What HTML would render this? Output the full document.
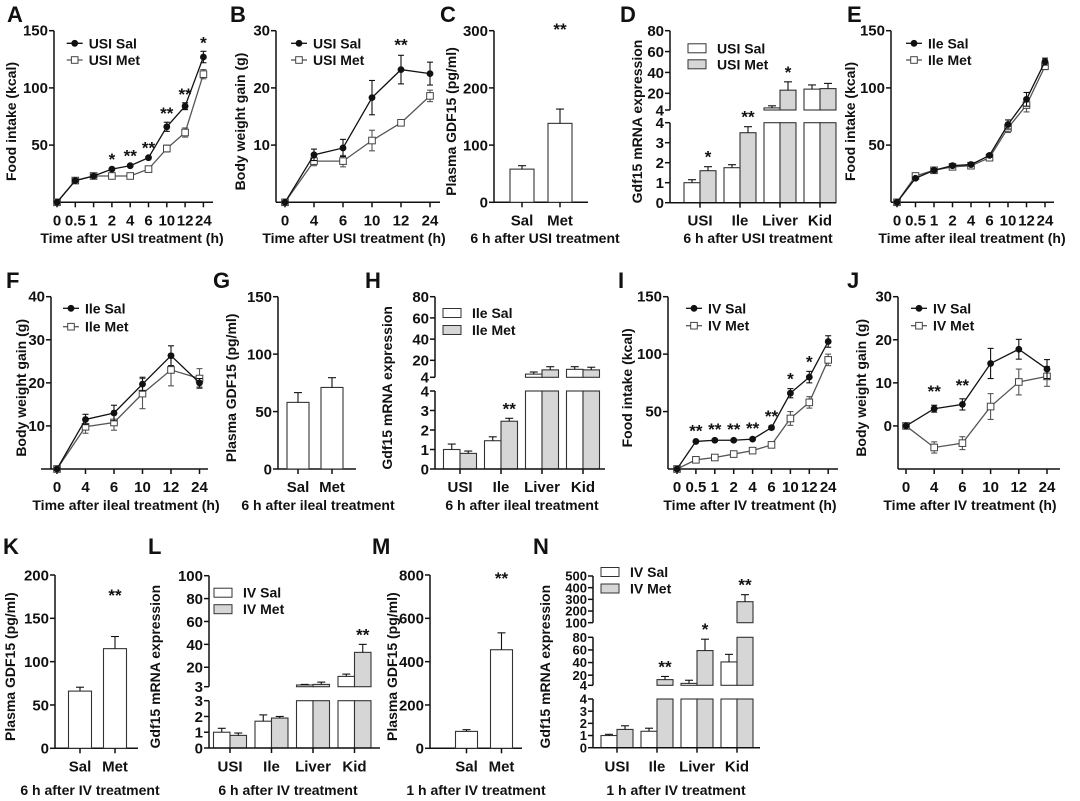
<!DOCTYPE html>
<html><head><meta charset="utf-8"><style>
html,body{margin:0;padding:0;background:#fff;}
svg{display:block;font-family:"Liberation Sans",Arial,sans-serif;font-weight:bold;}
</style></head><body>
<svg id="fig" width="1080" height="801" viewBox="0 0 1080 801" xmlns="http://www.w3.org/2000/svg"></svg>
<script>
// ---------- DATA ----------
const t9 = ['0','0.5','1','2','4','6','10','12','24'];
const t6 = ['0','4','6','10','12','24'];
const aSal=[0,19,23,29,32,39,66,84,127], aSalE=[0,1,1,1,1,1,4,3,5];
const aMet=[0,19,23,23,23,29,47,61,112], aMetE=[0,1,1,1,1,1,3,4,4];
const aStarIdx=[3,4,5,6,7,8], aStarTxt=['*','**','**','**','**','*'];
const bSal=[0,8.3,9.5,18.3,23.2,22.5], bSalE=[0,1,1.5,3,2.5,2];
const bMet=[0,7.2,7.2,10.8,13.9,18.6], bMetE=[0,0.8,1,1.8,0.4,1];
const bStarIdx=[4], bStarTxt=['**'];
const eSal=[0,21,28,32,33,41,68,90,123], eSalE=[0,1,1.5,1,1,1.5,4,6,3];
const eMet=[0,23,28,31,32,39,65,85,119], eMetE=[0,1,1.5,1,1,1.5,4,6,3];
const fSal=[0,11.5,13,19.7,26.3,20], fSalE=[0,1.2,1.8,1.6,2.3,1];
const fMet=[0,9.8,10.8,17.5,23,21], fMetE=[0,1.5,1.8,3.5,3.7,2.3];
const iSal=[0,24,25,25,26,36,66,80,111], iSalE=[0,1,1,1,1,1.5,4,5,5];
const iMet=[0,8,10,13,16,21,44,58,95], iMetE=[0,1,1,1,1,1.5,6,5,5];
const iStarIdx=[1,2,3,4,5,6,7], iStarTxt=['**','**','**','**','**','*','*'];
const jSal=[0,4,5,14.5,17.8,13.2], jSalE=[0,0.8,1.3,3.5,2.3,2.2];
const jMet=[0,-5,-4,4.5,10.2,11.5], jMetE=[0,1.3,1.5,3,3,2.3];
const jStarIdx=[1,2], jStarTxt=['**','**'];

const grpSM=['Sal','Met'];
const grpTissue=['USI','Ile','Liver','Kid'];
const cVal=[58,138], cErr=[64,163], cStar=['','**'];
const gVal=[58,71], gErr=[66.5,79.5], gStar=['',''];
const kVal=[66,115], kErr=[70.5,129], kStar=['','**'];
const mVal=[78,455], mErr=[86,533], mStar=['','**'];
const dSal=[1.0,1.75,6,24], dSalE=[1.15,1.9,8,28], dMet=[1.6,3.5,23,24.5], dMetE=[1.8,3.8,31,29.5], dStar=['*','**','*',''];
const hSal=[1.0,1.45,7,11.5], hSalE=[1.28,1.65,9,14], hMet=[0.8,2.45,11,11], hMetE=[0.92,2.6,14,13.5], hStar=['','**','',''];
const lSal=[1.0,1.7,4.5,12], lSalE=[1.25,2.1,5,14], lMet=[0.8,1.9,5,33], lMetE=[0.95,2.0,7,40], lStar=['','','','**'];
const nSal=[1.0,1.35,7,41], nSalE=[1.1,1.6,12,53], nMet=[1.5,13,59,280], nMetE=[1.8,18,77,340], nStar=['','**','*','**'];
const dTicksLo=[0,1,2,3,4], dTicksHi=[4,20,40,60,80];
const lTicksLo=[0,1,2,3], lTicksHi=[3,20,40,60,80,100];
const nTicksLo=[0,1,2,3,4], nTicksMid=[4,20,40,60,80], nTicksTop=[100,200,300,400,500];

// ---------- HELPERS ----------
const NS='http://www.w3.org/2000/svg';
const svg=document.getElementById('fig');
const TF=15;
function mk(tag,a,p){const e=document.createElementNS(NS,tag);for(const k in a)e.setAttribute(k,a[k]);(p||svg).appendChild(e);return e;}
function txt(p,x,y,s,size,anchor,rot){
  const a={x:x,y:y,'font-size':size,'text-anchor':anchor||'middle',fill:'#111'};
  if(rot)a.transform='rotate(-90 '+x+' '+y+')';
  const e=mk('text',a,p);e.textContent=s;return e;}
function ln(p,x1,y1,x2,y2,c,w){return mk('line',{x1:x1,y1:y1,x2:x2,y2:y2,stroke:c||'#111','stroke-width':w||1.5},p);}

function frame(p,c){
  const L=txt(p,c.lx,c.ly,c.letter,22,'start');
  
  
  const yl=txt(p,c.ylx,(c.yTop+c.yBot)/2+5,c.ylab,14,'middle',true);
  
  
  const tt=txt(p,c.tx,c.ty,c.title,14);
  
  
}

function linePanel(c,labels,s,se,m,me,stIdx,stTxt,names){
  const g=mk('g',{});
  
  
  const X=i=>c.x0+i*c.dx;
  const Y=v=>c.yBot-(v-c.yMin)/(c.yMax-c.yMin)*(c.yBot-c.yTop);
  frame(g,c);
  const ya=ln(g,c.ax,c.yTop,c.ax,c.yBot);
  
  const xa=ln(g,c.xStart||c.ax,c.yBot,c.xEnd,c.yBot);
  
  c.yTicks.forEach(t=>{ln(g,c.ax-5,Y(t),c.ax,Y(t));
    const e=txt(g,c.ax-6,Y(t)+5,String(t),TF,'end');
    });
  labels.forEach((l,i)=>{ln(g,X(i),c.yBot,X(i),c.yBot+5);
    const e=txt(g,X(i),c.yBot+c.tickDy,l,TF);
    });
  const series=[[m,me,'#555',false],[s,se,'#111',true]];
  series.forEach(([v,er,col,filled])=>{
    const pts=v.map((d,i)=>X(i)+','+Y(d)).join(' ');
    const pl=mk('polyline',{points:pts,fill:'none',stroke:col,'stroke-width':1.3},g);
    
    v.forEach((d,i)=>{
      if(er[i]>0){ln(g,X(i),Y(d-er[i]),X(i),Y(d+er[i]),col,1.1);
        ln(g,X(i)-3,Y(d+er[i]),X(i)+3,Y(d+er[i]),col,1.1);
        ln(g,X(i)-3,Y(d-er[i]),X(i)+3,Y(d-er[i]),col,1.1);}
      let mkEl;
      if(filled) mkEl=mk('circle',{cx:X(i),cy:Y(d),r:3.4,fill:'#111'},g);
      else mkEl=mk('rect',{x:X(i)-3.3,y:Y(d)-3.3,width:6.6,height:6.6,fill:'#fff',stroke:'#444','stroke-width':1},g);
      
      
    });
  });
  stIdx.forEach((i,k)=>{
    const e=txt(g,X(i),Y(s[i]+se[i])-c.starGap,stTxt[k],17);
    });
  names.forEach((n,k)=>{
    const yy=c.legY+k*c.legDy;
    ln(g,c.legX,yy,c.legX+16,yy,k?'#555':'#111',1.3);
    let mkEl;
    if(k===0) mkEl=mk('circle',{cx:c.legX+8,cy:yy,r:3.4,fill:'#111'},g);
    else mkEl=mk('rect',{x:c.legX+4.7,y:yy-3.3,width:6.6,height:6.6,fill:'#fff',stroke:'#444'},g);
    
    const e=txt(g,c.legX+22,yy+5,n,14,'start');
    });
}

function segY(segs,v){
  for(let i=0;i<segs.length;i++){const s=segs[i];
    if(v<=s.hi||i===segs.length-1){const vv=Math.min(Math.max(v,s.lo),s.hi);
      return s.yb-(vv-s.lo)/(s.hi-s.lo)*(s.yb-s.yt);}}
}
function drawBar(g,segs,x,w,v,fill,name){
  segs.forEach(s=>{ if(v>s.lo){const top=Math.min(v,s.hi);
    const yt=s.yb-(top-s.lo)/(s.hi-s.lo)*(s.yb-s.yt);
    const r=mk('rect',{x:x,y:yt,width:w,height:s.yb-yt,fill:fill,stroke:'#333','stroke-width':1.1},g);
    
    }});
}
function errBar(g,segs,x,v,e){
  const y0=segY(segs,v),y1=segY(segs,e);
  ln(g,x,y0,x,y1,'#111',1.1);ln(g,x-4,y1,x+4,y1,'#111',1.1);
}
function barAxes(g,c,segs,fs){
  segs.forEach(s=>{ln(g,c.ax,s.yb,c.ax,s.yt);
    s.ticks.forEach(t=>{const y=s.yb-(t-s.lo)/(s.hi-s.lo)*(s.yb-s.yt);
      ln(g,c.ax-5,y,c.ax,y);
      const e=txt(g,c.ax-6,y+fs*0.36,String(t),fs,'end');
      });});
  const xa=ln(g,c.ax,segs[0].yb,c.xEnd,segs[0].yb);
  
}
function simpleBar(c,groups,vals,errs,stars){
  const g=mk('g',{});
  
  
  frame(g,c);
  const segs=[{lo:0,hi:c.yMax,yb:c.yBot,yt:c.yTop,ticks:c.yTicks}];
  barAxes(g,c,segs,TF);
  groups.forEach((n,i)=>{const cx=c.c0+i*c.dc;
    drawBar(g,segs,cx-c.bw/2,c.bw,vals[i],'#fff','bar-'+n.toLowerCase());
    errBar(g,segs,cx,vals[i],errs[i]);
    ln(g,cx,c.yBot,cx,c.yBot+5);
    const e=txt(g,cx,c.yBot+c.tickDy,n,TF);
    
    if(stars[i]){const st=txt(g,cx,c.starY,stars[i],17);
      }});
}
function groupBar(c,segs,groups,s,se,m,me,stars,names,fs){
  const g=mk('g',{});
  
  
  frame(g,c);
  groups.forEach((n,i)=>{const cx=c.c0+i*c.dc;
    drawBar(g,segs,cx-c.bw,c.bw,s[i],'#fff','bar-sal-'+n.toLowerCase());
    drawBar(g,segs,cx,c.bw,m[i],'#d6d6d6','bar-met-'+n.toLowerCase());
    errBar(g,segs,cx-c.bw/2,s[i],se[i]);
    errBar(g,segs,cx+c.bw/2,m[i],me[i]);
    ln(g,cx,segs[0].yb,cx,segs[0].yb+5);
    const e=txt(g,cx,c.yBot+c.tickDy,n,TF);
    
    if(stars[i]){const st=txt(g,cx+c.bw/2,segY(segs,me[i])-4,stars[i],17);
      }});
  barAxes(g,c,segs,fs);
  names.forEach((n,k)=>{const yy=c.legY+k*c.legDy;
    const r=mk('rect',{x:c.legX,y:yy-4.5,width:18,height:9,fill:k?'#d6d6d6':'#fff',stroke:'#333','stroke-width':1},g);
    
    const e=txt(g,c.legX+29,yy+5,n,14,'start');
    });
}

// ---------- ROW 1 ----------
const R1={yTop:30.7,yBot:202.3,tickDy:23,ty:243};
linePanel(Object.assign({},R1,{letter:'A',lx:7,ly:22,ylab:'Food intake (kcal)',ylx:16,tx:132,title:'Time after USI treatment (h)',
  ax:54,x0:57,dx:18.3,xEnd:213,yMin:0,yMax:150,yTicks:[50,100,150],starGap:3,legX:66.7,legY:43.3,legDy:16.7}),
  t9,aSal,aSalE,aMet,aMetE,aStarIdx,aStarTxt,['USI Sal','USI Met']);
linePanel(Object.assign({},R1,{letter:'B',lx:230,ly:22,ylab:'Body weight gain (g)',ylx:245,tx:354,title:'Time after USI treatment (h)',
  ax:276,x0:285,dx:29,xEnd:440,yMin:0,yMax:30,yTicks:[10,20,30],starGap:5,legX:291,legY:43.3,legDy:16.7}),
  t6,bSal,bSalE,bMet,bMetE,bStarIdx,bStarTxt,['USI Sal','USI Met']);
simpleBar(Object.assign({},R1,{letter:'C',lx:440,ly:22,ylab:'Plasma GDF15 (pg/ml)',ylx:456,tx:545,title:'6 h after USI treatment',
  ax:494,xEnd:588,yMax:300,yTicks:[0,100,200,300],c0:522,dc:38,bw:24,starY:35}),grpSM,cVal,cErr,cStar);
groupBar(Object.assign({},R1,{letter:'D',lx:620,ly:22,ylab:'Gdf15 mRNA expression',ylx:642,tx:758,title:'6 h after USI treatment',
  ax:670,xEnd:836,c0:700,dc:40,bw:16,legX:688,legY:48.3,legDy:16}),
  [{lo:0,hi:4,yb:202.7,yt:122.7,ticks:dTicksLo},{lo:4,hi:80,yb:110,yt:30.7,ticks:dTicksHi}],
  grpTissue,dSal,dSalE,dMet,dMetE,dStar,['USI Sal','USI Met'],TF);
linePanel(Object.assign({},R1,{letter:'E',lx:847,ly:22,ylab:'Food intake (kcal)',ylx:855,tx:972,title:'Time after ileal treatment (h)',
  ax:891,x0:897,dx:18.5,xEnd:1054,yMin:0,yMax:150,yTicks:[50,100,150],starGap:3,legX:906,legY:43.3,legDy:16.7}),
  t9,eSal,eSalE,eMet,eMetE,[],[],['Ile Sal','Ile Met']);

// ---------- ROW 2 ----------
const R2={yTop:296.7,yBot:469,tickDy:23,ty:510};
linePanel(Object.assign({},R2,{letter:'F',lx:6,ly:288,ylab:'Body weight gain (g)',ylx:26,tx:126,title:'Time after ileal treatment (h)',
  ax:51,xStart:41,x0:57,dx:28.5,xEnd:208,yMin:0,yMax:40,yTicks:[10,20,30,40],starGap:3,legX:63,legY:308.3,legDy:18.4}),
  t6,fSal,fSalE,fMet,fMetE,[],[],['Ile Sal','Ile Met']);
simpleBar(Object.assign({},R2,{letter:'G',lx:213,ly:288,ylab:'Plasma GDF15 (pg/ml)',ylx:236,tx:318,title:'6 h after ileal treatment',
  ax:278,xEnd:356,yMax:150,yTicks:[0,50,100,150],c0:298,dc:34,bw:22,starY:0}),grpSM,gVal,gErr,gStar);
groupBar(Object.assign({},R2,{letter:'H',lx:365,ly:288,ylab:'Gdf15 mRNA expression',ylx:392,tx:522,title:'6 h after ileal treatment',
  ax:435,xEnd:605,c0:460,dc:41,bw:16.5,legX:443,legY:313,legDy:17}),
  [{lo:0,hi:4,yb:469,yt:391,ticks:dTicksLo},{lo:4,hi:80,yb:377.3,yt:296.7,ticks:dTicksHi}],
  grpTissue,hSal,hSalE,hMet,hMetE,hStar,['Ile Sal','Ile Met'],TF);
linePanel(Object.assign({},R2,{letter:'I',lx:618,ly:288,ylab:'Food intake (kcal)',ylx:632,tx:750,title:'Time after IV treatment (h)',
  ax:668,x0:677,dx:18.9,xEnd:838,yMin:0,yMax:150,yTicks:[50,100,150],starGap:4,legX:686,legY:308.3,legDy:17.4}),
  t9,iSal,iSalE,iMet,iMetE,iStarIdx,iStarTxt,['IV Sal','IV Met']);
linePanel(Object.assign({},R2,{letter:'J',lx:847,ly:288,ylab:'Body weight gain (g)',ylx:866,tx:970,title:'Time after IV treatment (h)',
  ax:898,x0:906,dx:28.2,xEnd:1060,yMin:-10,yMax:30,yTicks:[0,10,20,30],starGap:8,legX:911,legY:308.3,legDy:17.4}),
  t6,jSal,jSalE,jMet,jMetE,jStarIdx,jStarTxt,['IV Sal','IV Met']);

// ---------- ROW 3 ----------
const R3={yTop:575,yBot:748.3,tickDy:23,ty:795};
simpleBar(Object.assign({},R3,{letter:'K',lx:3,ly:554,ylab:'Plasma GDF15 (pg/ml)',ylx:15,tx:90,title:'6 h after IV treatment',
  ax:55,xEnd:138,yMax:200,yTicks:[0,50,100,150,200],c0:80,dc:35,bw:23,starY:601}),grpSM,kVal,kErr,kStar);
groupBar(Object.assign({},R3,{letter:'L',lx:148,ly:554,ylab:'Gdf15 mRNA expression',ylx:160,tx:288,title:'6 h after IV treatment',
  ax:209,xEnd:380,c0:230,dc:41.5,bw:16.5,legX:214,legY:592.7,legDy:16.5}),
  [{lo:0,hi:3,yb:748,yt:700.7,ticks:lTicksLo},{lo:3,hi:100,yb:686.7,yt:575.7,ticks:lTicksHi}],
  grpTissue,lSal,lSalE,lMet,lMetE,lStar,['IV Sal','IV Met'],TF);
simpleBar(Object.assign({},R3,{letter:'M',lx:372,ly:554,ylab:'Plasma GDF15 (pg/ml)',ylx:397,tx:476,title:'1 h after IV treatment',
  ax:430,xEnd:522,yMax:800,yTicks:[0,200,400,600,800],c0:466.5,dc:35,bw:22,starY:584}),grpSM,mVal,mErr,mStar);
groupBar(Object.assign({},R3,{letter:'N',lx:533,ly:554,ylab:'Gdf15 mRNA expression',ylx:550,tx:676,title:'1 h after IV treatment',
  ax:593,xEnd:760,c0:617,dc:40,bw:16,legX:601,legY:572,legDy:16.5}),
  [{lo:0,hi:4,yb:747.7,yt:699,ticks:nTicksLo},{lo:4,hi:80,yb:685.3,yt:637.3,ticks:nTicksMid},{lo:100,hi:500,yb:622.7,yt:576,ticks:nTicksTop}],
  grpTissue,nSal,nSalE,nMet,nMetE,nStar,['IV Sal','IV Met'],13);
</script>
</body></html>
